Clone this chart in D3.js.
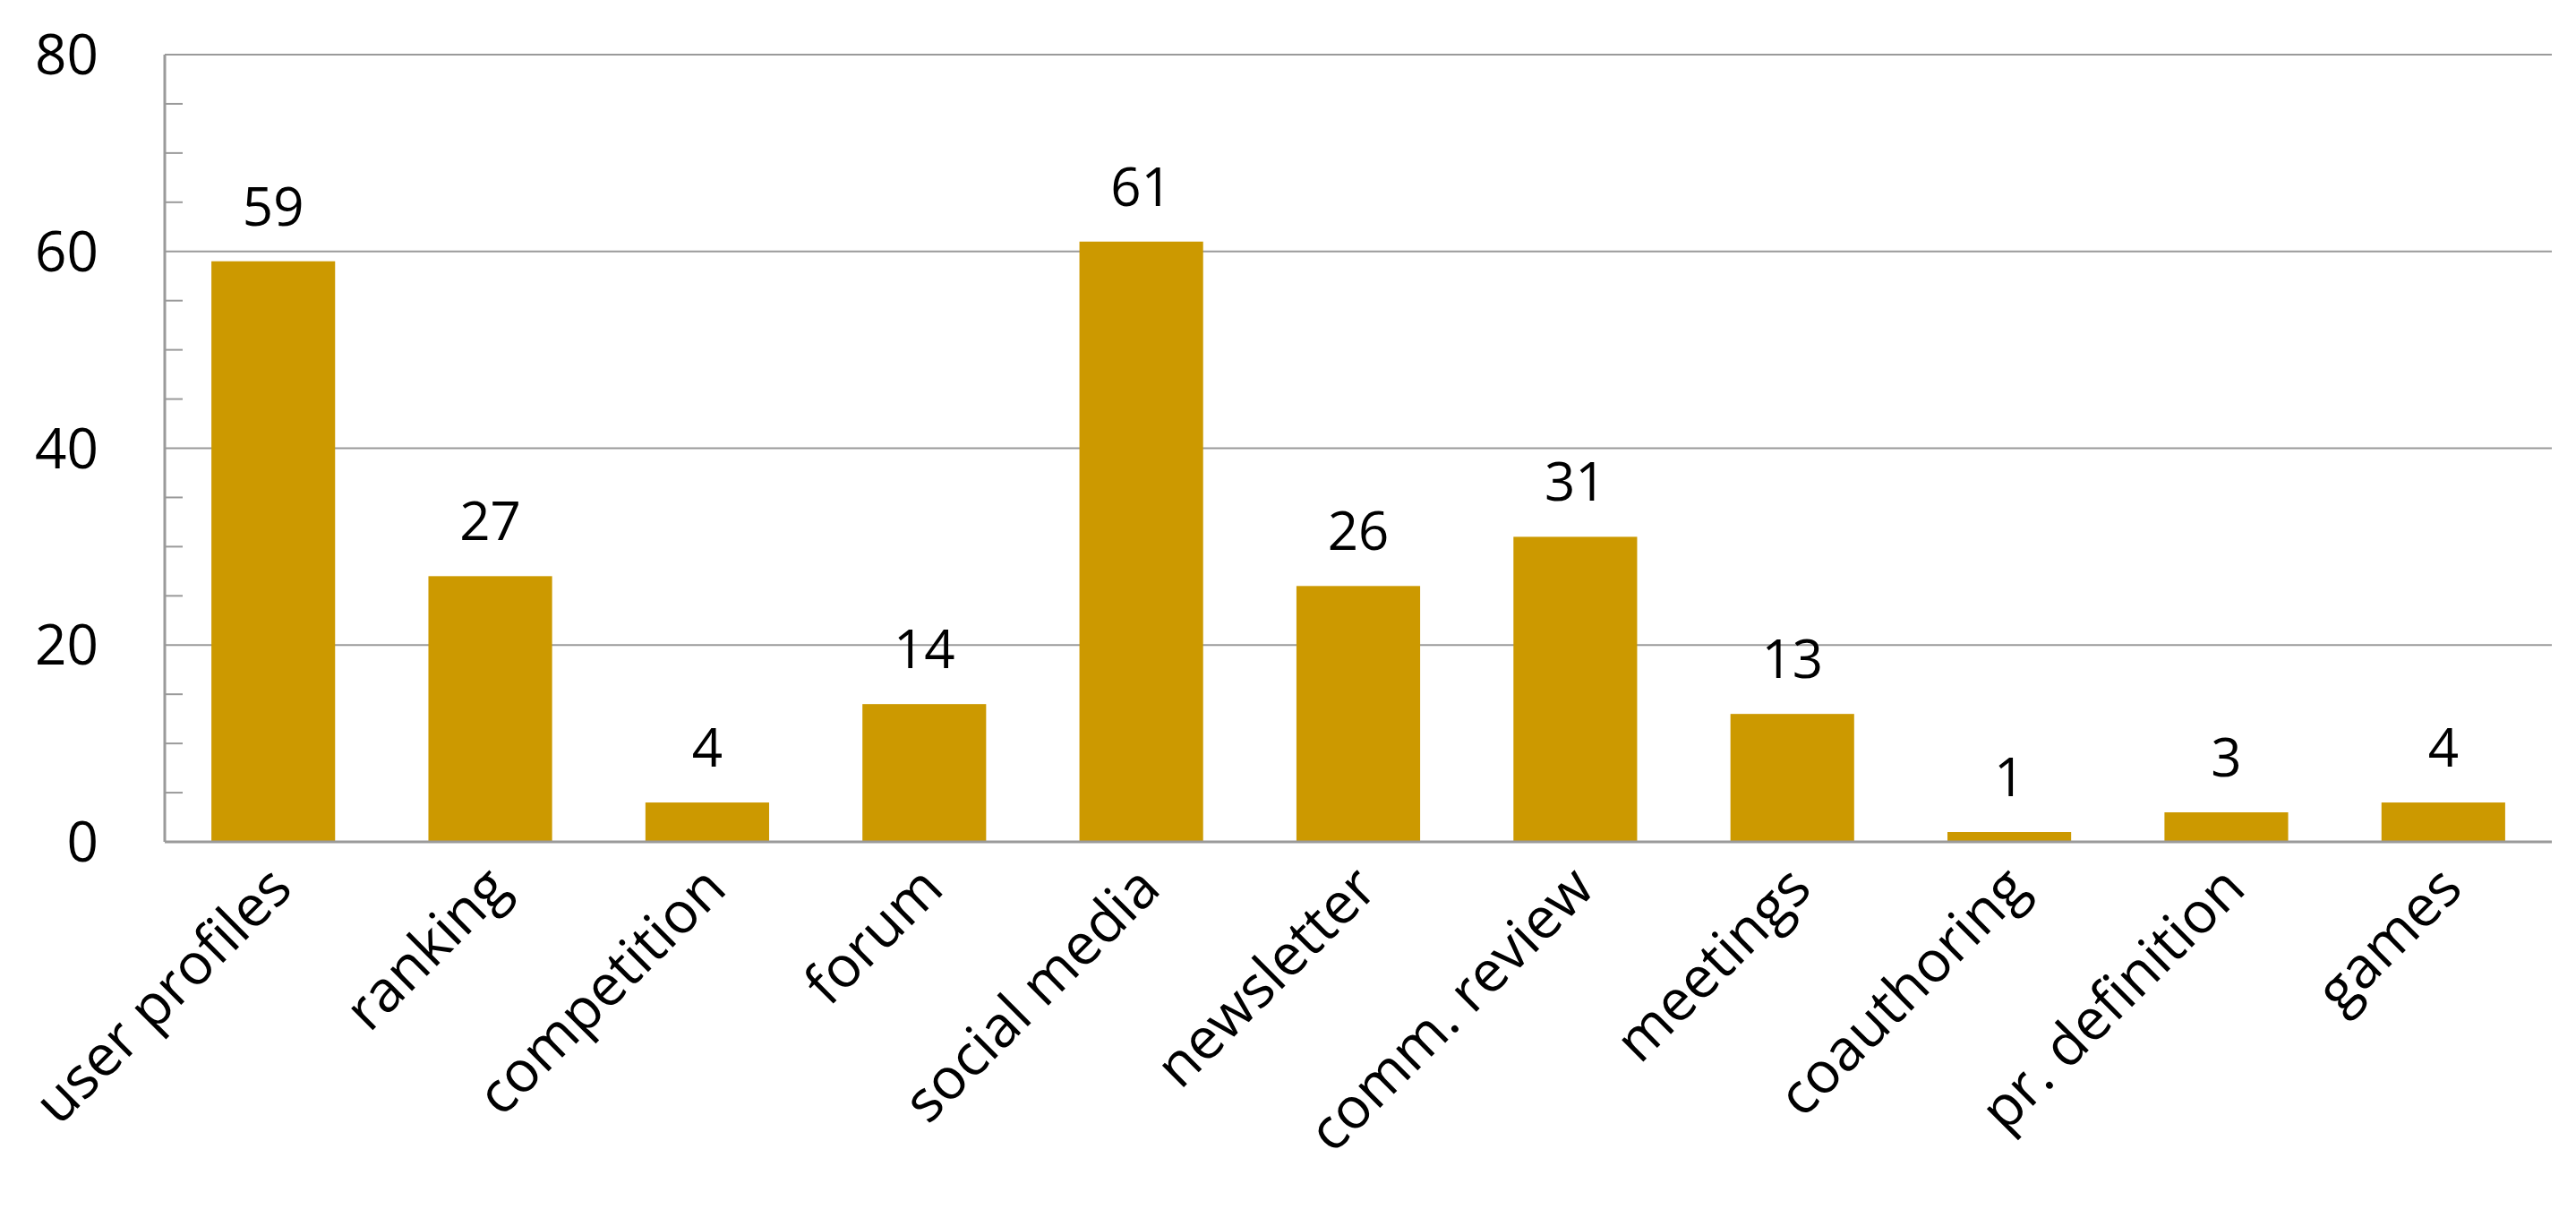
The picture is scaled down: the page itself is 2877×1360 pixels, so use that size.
<!DOCTYPE html>
<html>
<head>
<meta charset="utf-8">
<script src="https://cdn.jsdelivr.net/npm/d3@7"></script>
<style>
body { margin: 0; background: #fff; }
text { font-family: "Open Sans", sans-serif; fill: #000; }
</style>
</head>
<body>
<svg width="2877" height="1360"></svg>
<script>
var categories = ["user profiles", "ranking", "competition", "forum", "social media", "newsletter",
	"comm. review", "meetings", "coauthoring", "pr. definition", "games"];
var counts = [59, 27, 4, 14, 61, 26, 31, 13, 1, 3, 4];
var majorTicks = [0, 20, 40, 60, 80];
var minorTicks = [5, 10, 15, 25, 30, 35, 45, 50, 55, 65, 70, 75];

var plotLeft = 184, plotRight = 2850, plotTop = 61, plotBottom = 940;
var svg = d3.select("svg");

var x = d3.scaleBand().domain(categories).range([plotLeft, plotRight]).paddingInner(0.43).paddingOuter(0.215);
var y = d3.scaleLinear().domain([0, 80]).range([plotBottom, plotTop]);

// gridlines
svg.selectAll("line.grid").data(majorTicks.filter(function(d) { return d > 0; }))
	.enter().append("line")
	.attr("x1", plotLeft).attr("x2", plotRight)
	.attr("y1", function(d) { return y(d); }).attr("y2", function(d) { return y(d); })
	.attr("stroke", "#9a9a9a").attr("stroke-width", 2);

// minor ticks, pointing into the plot
svg.selectAll("line.minor").data(minorTicks)
	.enter().append("line")
	.attr("x1", plotLeft).attr("x2", plotLeft + 20)
	.attr("y1", function(d) { return y(d); }).attr("y2", function(d) { return y(d); })
	.attr("stroke", "#9a9a9a").attr("stroke-width", 2);

// bars
svg.selectAll("rect.bar").data(counts)
	.enter().append("rect")
	.attr("x", function(d, i) { return x(categories[i]); })
	.attr("width", x.bandwidth())
	.attr("y", function(d) { return y(d); })
	.attr("height", function(d) { return plotBottom - y(d); })
	.attr("fill", "#cc9900");

// axes lines
svg.append("line").attr("x1", plotLeft).attr("x2", plotLeft).attr("y1", plotTop).attr("y2", plotBottom)
	.attr("stroke", "#9a9a9a").attr("stroke-width", 3);
svg.append("line").attr("x1", plotLeft).attr("x2", plotRight).attr("y1", plotBottom).attr("y2", plotBottom)
	.attr("stroke", "#9a9a9a").attr("stroke-width", 3);

// y tick labels
svg.selectAll("text.ytick").data(majorTicks)
	.enter().append("text")
	.attr("x", 110).attr("y", function(d) { return y(d) + 22; })
	.attr("text-anchor", "end")
	.attr("font-size", 62)
	.text(function(d) { return d; });

// value labels
svg.selectAll("text.value").data(counts)
	.enter().append("text")
	.attr("x", function(d, i) { return x(categories[i]) + x.bandwidth() / 2; })
	.attr("y", function(d) { return y(d) - 40; })
	.attr("text-anchor", "middle")
	.attr("font-size", 60)
	.text(function(d) { return d; });

// category labels
svg.selectAll("text.cat").data(categories)
	.enter().append("text")
	.attr("transform", function(d) {
		return "translate(" + (x(d) + x.bandwidth() / 2 + 24) + "," + (plotBottom + 55) + ") rotate(-45)";
	})
	.attr("text-anchor", "end")
	.attr("font-size", 64)
	.text(function(d) { return d; });
</script>
</body>
</html>
